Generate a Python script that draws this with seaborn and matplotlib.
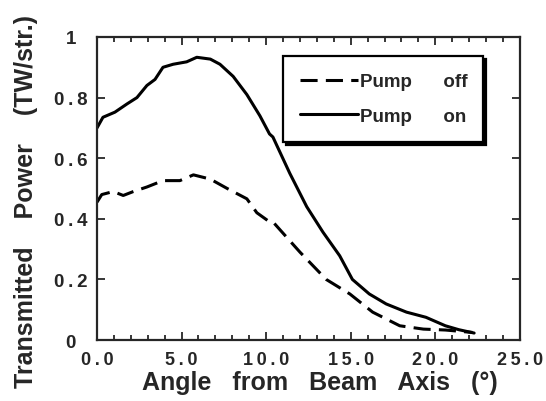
import matplotlib
matplotlib.use("Agg")
import matplotlib.pyplot as plt
import pandas as pd
import seaborn as sns
from matplotlib.ticker import MultipleLocator

# Pump on (solid)
angle_on = [0.0, 0.35, 1.06, 1.77, 2.36, 2.95, 3.43, 3.9, 4.5, 5.3, 5.9, 6.7,
            7.27, 8.05, 8.86, 9.63, 10.2, 10.4, 11.4, 12.4, 13.36, 14.35, 15.1,
            16.1, 17.1, 18.3, 19.45, 20.6, 21.4, 22.3]
power_on = [0.70, 0.735, 0.752, 0.779, 0.80, 0.84, 0.86, 0.90, 0.91, 0.918,
            0.933, 0.927, 0.91, 0.87, 0.81, 0.74, 0.68, 0.67, 0.55, 0.44, 0.356,
            0.278, 0.20, 0.152, 0.119, 0.092, 0.075, 0.047, 0.034, 0.023]

# Pump off (dashed)
angle_off = [0.0, 0.28, 0.96, 1.55, 2.15, 2.95, 3.9, 4.9, 5.7, 6.7, 7.7, 8.86,
             9.45, 10.2, 10.4, 12.0, 13.55, 14.95, 16.3, 17.9, 19.3, 20.6, 22.2]
power_off = [0.455, 0.48, 0.49, 0.477, 0.49, 0.505, 0.526, 0.526, 0.545, 0.531,
             0.50, 0.466, 0.42, 0.39, 0.39, 0.29, 0.20, 0.152, 0.092, 0.047,
             0.036, 0.033, 0.025]

x_ticks = [0, 5, 10, 15, 20, 25]
x_tick_labels = ["0.0", "5.0", "10.0", "15.0", "20.0", "25.0"]
y_ticks = [0, 0.2, 0.4, 0.6, 0.8, 1.0]
y_tick_labels = ["0", "0.2", "0.4", "0.6", "0.8", "1"]


def spaced(s):
    # the original uses wide letter spacing on the numbers
    return "\u2009".join(s)


sns.set_style("ticks")
plt.rcParams["font.family"] = ["Liberation Sans", "DejaVu Sans"]
plt.rcParams["font.weight"] = "bold"

fig = plt.figure(figsize=(5.46, 4.02), dpi=100)
ax = fig.add_axes([0.1777, 0.1517, 0.7743, 0.7538])

df_off = pd.DataFrame({"angle": angle_off, "power": power_off})
df_on = pd.DataFrame({"angle": angle_on, "power": power_on})

sns.lineplot(data=df_off, x="angle", y="power", ax=ax, color="black", lw=2.2,
             label="Pump      off", sort=False)
sns.lineplot(data=df_on, x="angle", y="power", ax=ax, color="black", lw=2.2,
             label="Pump      on", sort=False)
ax.lines[0].set_dashes([5.6, 2.7])

ax.set_xlim(0, 25)
ax.set_ylim(0, 1)
ax.set_xticks(x_ticks)
ax.set_xticklabels([spaced(t) for t in x_tick_labels], fontsize=13, fontweight="bold")
ax.set_yticks(y_ticks)
ax.set_yticklabels([spaced(t) for t in y_tick_labels], fontsize=13.5, fontweight="bold",
                   ha="center")
ax.xaxis.set_minor_locator(MultipleLocator(1))
ax.tick_params(which="both", direction="in", top=True, right=True, width=1.3)
ax.tick_params(which="major", length=6)
ax.tick_params(which="minor", length=3.5)
ax.tick_params(axis="x", pad=8)
ax.tick_params(axis="y", pad=19)
for s in ax.spines.values():
    s.set_linewidth(1.6)

ax.set_xlabel("Angle   from   Beam   Axis   (°)", fontsize=18, fontweight="bold")
ax.xaxis.set_label_coords(0.527, -0.1)
ax.set_ylabel("Transmitted    Power    (TW/str.)", fontsize=18, fontweight="bold")
ax.yaxis.set_label_coords(-0.14, 0.459)

leg = ax.legend(loc="upper left", bbox_to_anchor=(0.44, 0.5, 0.473, 0.437), mode="expand",
                borderaxespad=0, frameon=True, fancybox=False,
                shadow={"color": "black", "alpha": 1, "ox": 2, "oy": -2},
                handlelength=3.1, handletextpad=0.12, borderpad=0.9, labelspacing=0.95,
                prop={"size": 13.5, "weight": "bold"})
leg.get_frame().set_edgecolor("black")
leg.get_frame().set_linewidth(1.6)

fig.savefig("out.png", dpi=100)
